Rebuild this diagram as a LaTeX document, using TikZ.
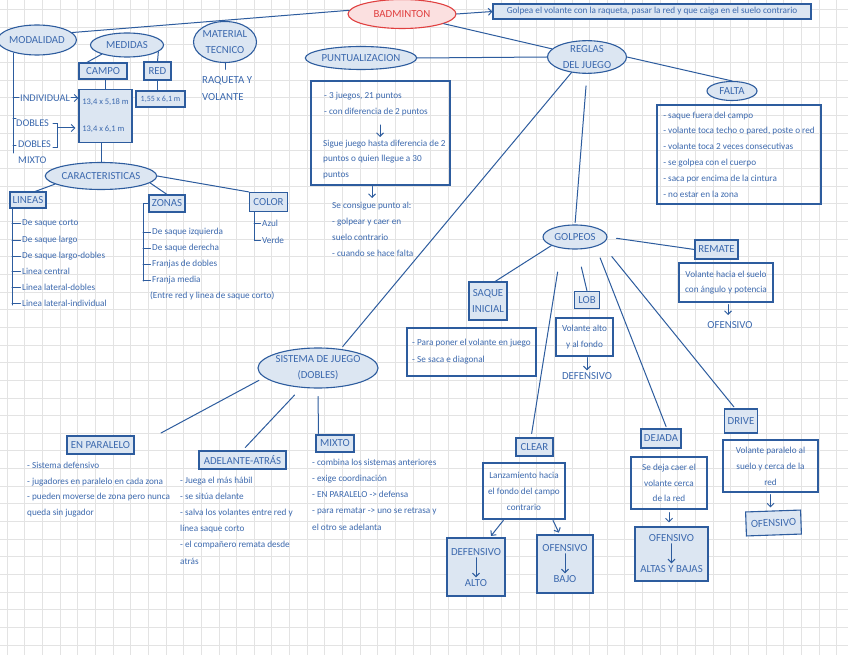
\documentclass[tikz,border=0pt]{standalone}
\usepackage{fontspec}
\setmainfont{Carlito}
\usetikzlibrary{shapes.geometric,arrows.meta,calc}
\definecolor{lb}{HTML}{2D5C9E}
\definecolor{tb}{HTML}{3C69AE}
\definecolor{fb}{HTML}{DCE6F2}
\definecolor{rd}{HTML}{E04040}
\definecolor{rf}{HTML}{FBE0E0}
\definecolor{gc}{HTML}{E3E3E3}
\newcommand\labf{\fontsize{10.8}{16}\selectfont}
\newcommand\smf{\fontsize{9.2}{15.8}\selectfont}
\newcommand\msf{\fontsize{8.5}{27}\selectfont}
\newcommand\modf{\fontsize{10.3}{12}\selectfont}
\begin{document}
\begin{tikzpicture}[x=1pt,y=-1pt,
 ln/.style={draw=lb, line width=1pt, line cap=round},
 harrow/.style={ln, -{Straight Barb[length=3.5pt,width=7pt]}},
 ell/.style={ellipse, draw=lb, fill=fb, line width=1.1pt, inner sep=0pt, text=tb, font=\labf, align=center},
 lbx/.style={rectangle, draw=lb, fill=fb, line width=1.1pt, inner sep=0pt, text=tb, font=\labf, align=center},
 dbx/.style={rectangle, draw=lb, line width=1.1pt, inner sep=0pt, text=tb, font=\smf},
 tx/.style={text=tb, font=\smf, inner sep=0pt, anchor=west, align=left},
 tl/.style={text=tb, font=\labf, inner sep=1pt, align=center},
]
\useasboundingbox (0,0) rectangle (848,655);
\fill[white] (0,0) rectangle (848,655);
\foreach \i in {0,...,48} \draw[gc, line width=0.6pt] ({7+\i*17.65},0) -- ({7+\i*17.65},655);
\foreach \j in {0,...,37} \draw[gc, line width=0.6pt] (0,{9.5+\j*17.65}) -- (848,{9.5+\j*17.65});

% ---------- top ----------
\node[ell, draw=rd, fill=rf, text=rd, minimum width=108, minimum height=29] (badminton) at (402,14) {BADMINTON};
\node[lbx, font=\smf, minimum width=318, minimum height=15] (golpea) at (652,11.5) {Golpea el volante con la raqueta, pasar la red y que caiga en el suelo contrario};
\draw[harrow] (badminton.east) -- (golpea.west);

% ---------- left: modalidad / medidas ----------
\node[ell, minimum width=73, minimum height=30] (modalidad) at (37,40) {MODALIDAD};
\draw[ln] (modalidad.12) -- (badminton.176);
\node[ell, minimum width=73, minimum height=24] (medidas) at (127,45) {MEDIDAS};
\node[lbx, minimum width=48, minimum height=16] (campo) at (103,71) {CAMPO};
\node[lbx, minimum width=27, minimum height=18] (red) at (157.5,71) {RED};
\node[lbx, minimum width=53, minimum height=53, font=\msf, align=left] (meas) at (105.5,116) {13,4 x 5,18 m\\13,4 x 6,1 m};
\node[lbx, minimum width=49, minimum height=16, font=\fontsize{8}{10}\selectfont] (redval) at (160.5,99) {1,55 x 6,1 m};
\draw[ln] (medidas.200) -- (campo.152);
\draw[ln] (medidas.-12) -- (red.north);
\draw[ln] (campo.south -| meas.north) -- (meas.north);
\draw[ln] (red.south) -- (red.south |- redval.north);

\node[ell, minimum width=57, minimum height=41] (material) at (225,42) {MATERIAL\\TECNICO};
\node[tx, font=\fontsize{10.8}{17}\selectfont, anchor=west] (raqueta) at (202,88.5) {RAQUETA Y\\VOLANTE};
\draw[ln, shorten >=7pt] (material.south) -- (material.south |- raqueta.north);

\coordinate (mt) at (13,53);
\coordinate (mb) at (13,153);
\draw[ln] (mt) -- (mb);
\node[tx, font=\modf] (ind) at (20,98) {INDIVIDUAL};
\node[tx, font=\modf] (dob1) at (16,123) {DOBLES};
\node[tx, font=\modf] (dob2) at (18,144) {DOBLES};
\node[tx, font=\modf] (mix) at (18,160) {MIXTO};
\draw[ln] (mt |- ind.west) -- ([xshift=-1pt]ind.west);
\draw[ln] (13,119) -- (16,119);
\draw[ln] (13,146) -- (16,146);
\draw[harrow] ([xshift=1pt]ind.east) -- (ind.east -| meas.west);
\coordinate (bk1) at (53,124);
\coordinate (bk2) at (57.5,124);
\coordinate (bk3) at (57.5,148);
\coordinate (bk4) at (53,148);
\coordinate (bkm) at (57.5,128);
\draw[ln] (bk1) -- (bk2) -- (bk3) -- (bk4);
\draw[harrow, shorten >=3pt] (bkm) -- (bkm -| meas.west);

% ---------- caracteristicas ----------
\node[ell, minimum width=106, minimum height=27] (carac) at (101,176) {CARACTERISTICAS};
\draw[ln] (carac.north |- meas.south) -- (carac.north);
\node[lbx, minimum width=36, minimum height=16] (lineas) at (28,200) {LINEAS};
\node[lbx, minimum width=36, minimum height=17] (zonas) at (167,203.5) {ZONAS};
\node[lbx, minimum width=38, minimum height=19] (color) at (268.5,202) {COLOR};
\draw[ln] (carac.190) -- (lineas.50);
\draw[ln] (carac.-8) -- (zonas.north);
\draw[ln] (carac.east) -- (color.north west);

\node[tx] (li1) at (22,223) {De saque corto};
\node[tx] (li2) at (22,240) {De saque largo};
\node[tx] (li3) at (22,256) {De saque largo-dobles};
\node[tx] (li4) at (22,271) {Linea central};
\node[tx] (li5) at (22,287) {Linea lateral-dobles};
\node[tx] (li6) at (22,303) {Linea lateral-individual};
\coordinate (lt) at (12,208);
\coordinate (lbt) at (12,305);
\draw[ln] (lt) -- (lbt);
\foreach \n in {li1,li2,li3,li4,li5,li6} \draw[ln] (lt |- \n.west) -- ([xshift=-1.5pt]\n.west);

\node[tx] (zo1) at (152,232) {De saque izquierda};
\node[tx] (zo2) at (152,248) {De saque derecha};
\node[tx] (zo3) at (152,264) {Franjas de dobles};
\node[tx] (zo4) at (152,280) {Franja media};
\node[tx] (zo5) at (150,296) {(Entre red y linea de saque corto)};
\coordinate (zt) at (143,203.5);
\coordinate (zb) at (143,281);
\draw[ln] (zonas.west) -- (zt) -- (zb);
\foreach \n in {zo1,zo2,zo3,zo4} \draw[ln] (zt |- \n.west) -- ([xshift=-1.5pt]\n.west);

\node[tx] (co1) at (262,223) {Azul};
\node[tx] (co2) at (262,240) {Verde};
\coordinate (ct) at (254,211.5);
\draw[ln] (ct) -- (ct |- co2.west) -- ([xshift=-1.5pt]co2.west);
\draw[ln] (ct |- co1.west) -- ([xshift=-1.5pt]co1.west);

% ---------- puntualizacion ----------
\node[ell, minimum width=111, minimum height=23] (punt) at (361,58) {PUNTUALIZACION};
\node[ell, minimum width=79, minimum height=31] (reglas) at (587,57) {REGLAS\\DEL JUEGO};
\draw[ln] (badminton) -- (reglas);
\draw[ln] (punt.east) -- (reglas.west);
\node[dbx, minimum width=139, minimum height=104] (puntbox) at (380.5,133) {};
\node[tx] (pt1) at (324,104) {- 3 juegos, 21 puntos\\- con diferencia de 2 puntos};
\node[tx] (pt2) at (323,159.5) {Sigue juego hasta diferencia de 2\\puntos o quien llegue a 30\\puntos};
\coordinate (pa1) at (380,125);
\coordinate (pa2) at (380,137);
\draw[harrow] (pa1) -- (pa2);
\node[tx] (pt3) at (332,229.5) {Se consigue punto al:\\- golpear y caer en\\suelo contrario\\- cuando se hace falta};
\coordinate (pa3) at (372,186.5);
\coordinate (pa4) at (372,198);
\draw[harrow] (pa3) -- (pa4);

% ---------- falta ----------
\node[ell, minimum width=50, minimum height=19] (falta) at (732,91) {FALTA};
\draw[ln] (reglas.east) -- (falta.north);
\node[dbx, minimum width=164, minimum height=99, align=left] (faltabox) at (739,154.5) {- saque fuera del campo\\- volante toca techo o pared, poste o red\\- volante toca 2 veces consecutivas\\- se golpea con el cuerpo\\- saca por encima de la cintura\\- no estar en la zona};

% ---------- golpeos ----------
\node[ell, minimum width=64, minimum height=24] (golpeos) at (575,237) {GOLPEOS};
\draw[ln, shorten <=12pt, shorten >=2pt] (reglas.south) -- (golpeos.north);

\node[lbx, minimum width=38, minimum height=38] (saque) at (488,301) {SAQUE\\INICIAL};
\node[dbx, minimum width=129, minimum height=48, align=left, font=\fontsize{9.2}{17}\selectfont] (saquebox) at (471.5,352) {- Para poner el volante en juego\\- Se saca e diagonal};
\draw[ln] (golpeos.200) -- (saque.70);

\node[lbx, minimum width=25, minimum height=17] (lob) at (587,300) {LOB};
\node[dbx, minimum width=57, minimum height=38, align=center, font=\fontsize{9.2}{16}\selectfont] (lobbox) at (584.5,337) {Volante alto\\y al fondo};
\node[tl] (lobdef) at (587,376) {DEFENSIVO};
\draw[ln, shorten <=18pt] (golpeos.-80) -- (lob.north);
\draw[harrow, shorten <=1pt, shorten >=1pt] (lobbox.south -| lobdef.north) -- (lobdef.north);

\node[lbx, minimum width=43, minimum height=19] (remate) at (716.5,249.5) {REMATE};
\node[dbx, minimum width=94, minimum height=39, align=center, font=\fontsize{9.2}{15}\selectfont] (rematebox) at (726,282.5) {Volante hacia el suelo\\con ángulo y potencia};
\node[tl] (remateof) at (730,325) {OFENSIVO};
\draw[ln, shorten <=9pt] (golpeos.east) -- (remate.west);
\draw[harrow, shorten <=2pt, shorten >=1pt] (rematebox.south -| 728,0) -- (728,316);

\node[lbx, minimum width=37, minimum height=18] (clear) at (534.5,447) {CLEAR};
\node[dbx, minimum width=82, minimum height=56, align=center, font=\fontsize{9.2}{16}\selectfont] (clearbox) at (524,491) {Lanzamiento hacia\\el fondo del campo\\contrario};
\draw[ln, shorten <=24pt, shorten >=4pt] (golpeos.-140) -- (clear.110);
\node[lbx, minimum width=58, minimum height=58] (cdef) at (476,567) {};
\node[tl] (cdef1) at (476,552) {DEFENSIVO};
\node[tl] (cdef2) at (476,583) {ALTO};
\draw[harrow, shorten <=1pt, shorten >=1pt] (cdef1) -- (cdef2);
\node[lbx, minimum width=56, minimum height=58] (cof) at (565,564) {};
\node[tl] (cof1) at (565,548) {OFENSIVO};
\node[tl] (cof2) at (565,579) {BAJO};
\draw[harrow, shorten <=1pt, shorten >=1pt] (cof1) -- (cof2);
\draw[harrow, shorten <=1pt, shorten >=2pt] (clearbox.-125) -- (cdef.65);
\draw[harrow, shorten <=1pt, shorten >=2pt] (clearbox.-45) -- (cof.100);

\node[lbx, minimum width=40, minimum height=19] (dejada) at (661,438.5) {DEJADA};
\node[dbx, minimum width=76, minimum height=52, align=center, font=\fontsize{9.2}{15.5}\selectfont] (dejadabox) at (669,483) {Se deja caer el\\volante cerca\\de la red};
\draw[ln, shorten <=12pt, shorten >=2pt] (golpeos.-25) -- (dejada.60);
\node[lbx, minimum width=73, minimum height=54] (altas) at (671.5,554) {};
\node[tl] (altas1) at (671.5,538) {OFENSIVO};
\node[tl] (altas2) at (671.5,569) {ALTAS Y BAJAS};
\draw[harrow, shorten <=1pt, shorten >=1pt] (altas1) -- (altas2);
\draw[harrow, shorten <=3pt, shorten >=4pt] (dejadabox.south) -- (dejadabox.south |- altas.north);

\node[lbx, minimum width=33, minimum height=24] (drive) at (741,421) {DRIVE};
\node[dbx, minimum width=95, minimum height=52, align=center, font=\fontsize{9.2}{16}\selectfont] (drivebox) at (770.5,466) {Volante paralelo al\\suelo y cerca de la\\red};
\draw[ln, shorten <=16pt, shorten >=2pt] (golpeos.-15) -- (drive.115);
\node[lbx, minimum width=55, minimum height=24, rotate=2] (driveof) at (773.5,523) {OFENSIVO};
\draw[harrow, shorten <=2pt, shorten >=3pt] (drivebox.south) -- (drivebox.south |- driveof.north);

% ---------- sistema de juego ----------
\node[ell, minimum width=100, minimum height=40] (sistema) at (318,368) {SISTEMA DE JUEGO\\(DOBLES)};
\draw[ln, shorten >=3pt] (reglas.-135) -- (sistema.40);
\node[lbx, minimum width=67, minimum height=18] (paralelo) at (100.5,445) {EN PARALELO};
\coordinate (pe) at (161,433);
\draw[ln, shorten <=6pt] (sistema.190) -- (pe);
\node[tx] (paratext) at (27,489.5) {- Sistema defensivo\\- jugadores en paralelo en cada zona\\- pueden moverse de zona pero nunca\\queda sin jugador};
\node[lbx, minimum width=87, minimum height=18] (adelante) at (242.5,460) {ADELANTE-ATRÁS};
\draw[ln, shorten <=10pt, shorten >=4pt] (sistema.-130) -- (adelante.north);
\node[tx, font=\fontsize{9.2}{16.2}\selectfont] (adetext) at (180,520.5) {- Juega el más hábil\\- se sitúa delante\\- salva los volantes entre red y\\línea saque corto\\- el compañero remata desde\\atrás};
\node[lbx, minimum width=38, minimum height=17] (mixto) at (335,443.5) {MIXTO};
\draw[ln, shorten <=8pt, shorten >=1pt] (sistema.south) -- ([xshift=3pt]mixto.north west);
\node[tx, font=\fontsize{9.2}{16.2}\selectfont] (mixtext) at (312,494.5) {- combina los sistemas anteriores\\- exige coordinación\\- EN PARALELO -> defensa\\- para rematar -> uno se retrasa y\\el otro se adelanta};
\end{tikzpicture}
\end{document}
